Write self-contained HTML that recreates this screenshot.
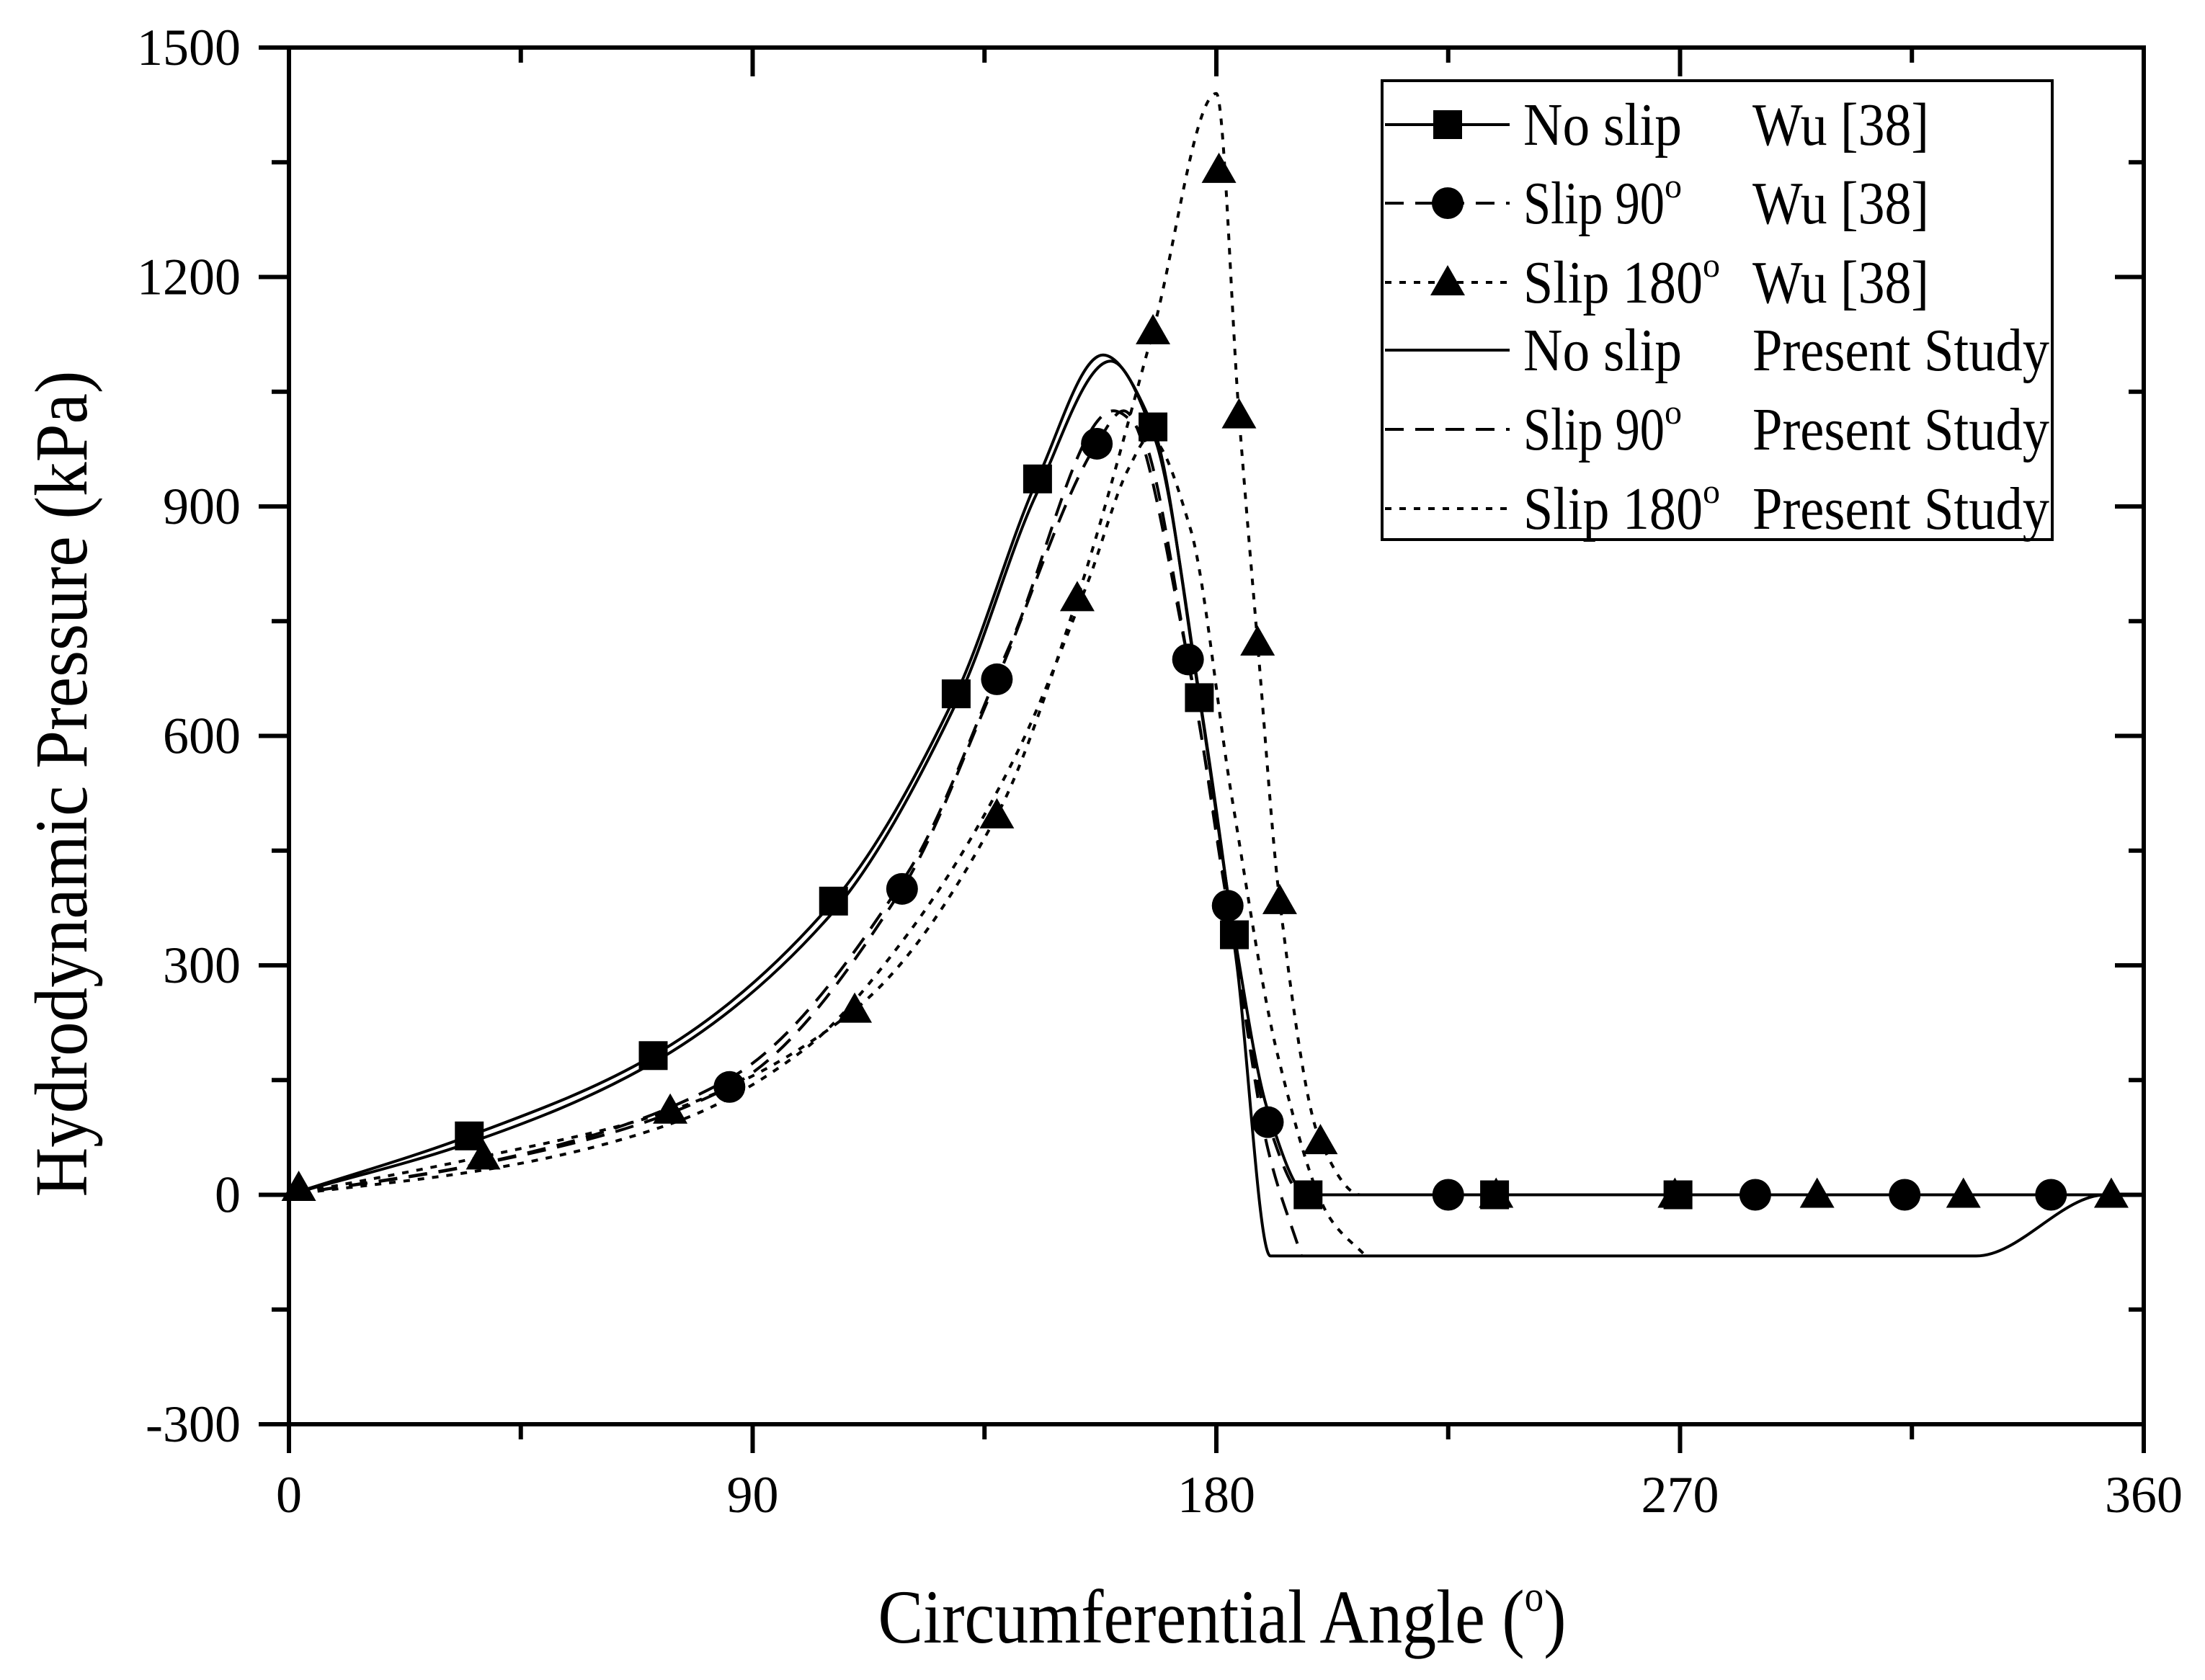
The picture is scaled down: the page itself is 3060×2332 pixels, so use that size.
<!DOCTYPE html>
<html><head><meta charset="utf-8"><style>
html,body{margin:0;padding:0;background:#fff;}
svg{display:block;}
text{font-family:"Liberation Serif","DejaVu Serif",serif;fill:#000;}
</style></head><body>
<svg id="chart" width="3060" height="2332" viewBox="0 0 3060 2332" xmlns="http://www.w3.org/2000/svg">
<rect x="0" y="0" width="3060" height="2332" fill="#fff"/>
<g id="plot"></g>
<g id="axes"></g>
<text x="1696" y="2280" font-size="106" text-anchor="middle" textLength="955" lengthAdjust="spacingAndGlyphs">Circumferential Angle (<tspan font-size="60" dy="-44">o</tspan><tspan dy="44">)</tspan></text>
<text transform="translate(120,1088) rotate(-90)" x="0" y="0" font-size="104" text-anchor="middle" textLength="1147" lengthAdjust="spacingAndGlyphs">Hydrodynamic Pressure (kPa)</text>
<g id="legend"></g>
</svg>
<script>
// ---- data ----
const xTicks = [0, 90, 180, 270, 360];
const yTicks = [-300, 0, 300, 600, 900, 1200, 1500];
// Wu [38] markers
const wuNoSlipAngle = [35, 70.7, 105.7, 129.5, 145.3, 167.7, 176.7, 183.5, 197.8, 234, 269.6];
const wuNoSlipP = [77, 182, 384, 655, 936, 1004, 650, 340, 0, 0, 0];
const wuSlip90Angle = [85.5, 119, 137.4, 156.8, 174.5, 182.2, 190, 225, 284.6, 313.6, 342];
const wuSlip90P = [141, 400, 674, 982, 700, 378, 95, 0, 0, 0, 0];
const wuSlip180Angle = [1.9, 37.7, 74, 109.8, 137.4, 153, 167.7, 180.5, 184.4, 188, 192.3, 200.2, 234.3, 269, 296.6, 325, 353.7];
const wuSlip180P = [9, 50, 110, 242, 496, 780, 1129, 1340, 1019, 722, 384, 70, 0, 0, 0, 0, 0];
// Wu [38] connecting lines
const wuNoSlipLineA = [0, 35, 70.7, 105.7, 129.5, 145.3, 158, 167.7, 176.7, 183.5, 190, 197.8, 360];
const wuNoSlipLineP = [0, 77, 182, 384, 655, 936, 1098, 1004, 650, 340, 110, 0, 0];
const wuSlip90LineA = [0, 37, 85.5, 119, 137.4, 156.8, 162, 174.5, 182.2, 190, 197, 360];
const wuSlip90LineP = [0, 40, 141, 400, 674, 982, 1025, 700, 378, 95, 0, 0];
const wuSlip180LineA = [0, 37.7, 74, 109.8, 137.4, 153, 167.7, 180, 184.4, 188, 192.3, 200.2, 208, 360];
const wuSlip180LineP = [0, 50, 110, 242, 496, 780, 1129, 1440, 1019, 722, 384, 70, 0, 0];
// Present study
const psNoSlipA = [0, 35, 70, 105, 130, 145, 159.5, 168, 177, 184, 190.5, 327.5, 352.6, 360];
const psNoSlipP = [0, 68, 170, 365, 650, 915, 1090, 990, 640, 300, -80, -80, 0, 0];
const psSlip90A = [0, 40, 85, 120, 140, 160, 165, 175, 183, 190, 196.5];
const psSlip90P = [0, 45, 150, 420, 720, 1025, 1000, 680, 350, 60, -80];
const psSlip180A = [0, 40, 75, 100, 120, 140, 155, 163, 167, 175, 183, 192, 202, 209];
const psSlip180P = [0, 35, 95, 190, 340, 560, 800, 950, 990, 870, 520, 180, -30, -80];

// ---- scales ----
const L = 401, R = 2975, T = 66, B = 1977;
function X(a){ return L + a / 360 * (R - L); }
function Y(v){ return B - (v + 300) / 1800 * (B - T); }
const NS = 'http://www.w3.org/2000/svg';
function mk(tag, parent){ const e = document.createElementNS(NS, tag); parent.appendChild(e); return e; }
// monotone cubic (Fritsch-Carlson) path through the points
function smoothPath(xs, ys){
  const px = xs.map(X), py = ys.map(Y), n = px.length;
  const d = [], m = new Array(n);
  for (let i = 0; i < n - 1; i++) d.push((py[i + 1] - py[i]) / (px[i + 1] - px[i]));
  m[0] = d[0]; m[n - 1] = d[n - 2];
  for (let i = 1; i < n - 1; i++){
    if (d[i - 1] * d[i] <= 0) m[i] = 0;
    else { const w1 = 2 * (px[i + 1] - px[i]) + (px[i] - px[i - 1]), w2 = (px[i + 1] - px[i]) + 2 * (px[i] - px[i - 1]);
      m[i] = (w1 + w2) / (w1 / d[i - 1] + w2 / d[i]); }
  }
  let s = 'M' + px[0] + ',' + py[0];
  for (let i = 0; i < n - 1; i++){
    const h = (px[i + 1] - px[i]) / 3;
    s += ' C' + (px[i] + h) + ',' + (py[i] + m[i] * h) + ' ' + (px[i + 1] - h) + ',' + (py[i + 1] - m[i + 1] * h) + ' ' + px[i + 1] + ',' + py[i + 1];
  }
  return s;
}
const plot = document.getElementById('plot');
function line(xs, ys, dash, name){
  const e = mk('path', plot);
  
  
  e.setAttribute('d', smoothPath(xs, ys));
  e.setAttribute('fill', 'none');
  e.setAttribute('stroke', '#000');
  e.setAttribute('stroke-width', '4');
  e.setAttribute('stroke-linejoin', 'round');
  if (dash) e.setAttribute('stroke-dasharray', dash);
}
line(psNoSlipA, psNoSlipP, null, 'present-no-slip-line');
line(psSlip90A, psSlip90P, '26,16', 'present-slip90-line');
line(psSlip180A, psSlip180P, '9,11', 'present-slip180-line');
line(wuNoSlipLineA, wuNoSlipLineP, null, 'wu-no-slip-line');
line(wuSlip90LineA, wuSlip90LineP, '26,16', 'wu-slip90-line');
line(wuSlip180LineA, wuSlip180LineP, '9,11', 'wu-slip180-line');

function marker(parent, kind, cx, cy){
  let e;
  if (kind === 'sq'){ e = mk('rect', parent); e.setAttribute('x', cx - 20); e.setAttribute('y', cy - 20); e.setAttribute('width', 40); e.setAttribute('height', 40); }
  else if (kind === 'ci'){ e = mk('circle', parent); e.setAttribute('cx', cx); e.setAttribute('cy', cy); e.setAttribute('r', 22); }
  else { e = mk('polygon', parent); e.setAttribute('points', (cx) + ',' + (cy - 24) + ' ' + (cx - 24) + ',' + (cy + 18) + ' ' + (cx + 24) + ',' + (cy + 18)); }
  e.setAttribute('fill', '#000');
  return e;
}
wuNoSlipAngle.forEach((a, i) => {
  const m = marker(plot, 'sq', X(a), Y(wuNoSlipP[i]));
  
  
});
wuSlip90Angle.forEach((a, i) => {
  const m = marker(plot, 'ci', X(a), Y(wuSlip90P[i]));
  
  
});
wuSlip180Angle.forEach((a, i) => {
  const m = marker(plot, 'tr', X(a), Y(wuSlip180P[i]));
  
  
});

// ---- axes ----
const axes = document.getElementById('axes');
const frame = mk('rect', axes);


frame.setAttribute('x', L); frame.setAttribute('y', T); frame.setAttribute('width', R - L); frame.setAttribute('height', B - T);
frame.setAttribute('fill', 'none'); frame.setAttribute('stroke', '#000'); frame.setAttribute('stroke-width', '6');
function tick(x1, y1, x2, y2){
  const e = mk('line', axes);
  
  
  e.setAttribute('x1', x1); e.setAttribute('y1', y1); e.setAttribute('x2', x2); e.setAttribute('y2', y2);
  e.setAttribute('stroke', '#000'); e.setAttribute('stroke-width', '6');
}
for (let a = 0; a <= 360; a += 45){
  const major = (a % 90 === 0);
  tick(X(a), B, X(a), B + (major ? 40 : 21));
  tick(X(a), T, X(a), T + (major ? 40 : 21));
}
for (let v = -300; v <= 1500; v += 150){
  const major = (v % 300 === 0);
  tick(L, Y(v), L - (major ? 42 : 24), Y(v));
  tick(R, Y(v), R - (major ? 40 : 21), Y(v));
}
xTicks.forEach(a => {
  const t = mk('text', axes);
  
  
  t.setAttribute('x', X(a)); t.setAttribute('y', 2099);
  t.setAttribute('font-size', '72'); t.setAttribute('text-anchor', 'middle');
  t.textContent = a;
});
yTicks.forEach(v => {
  const t = mk('text', axes);
  
  
  t.setAttribute('x', 334); t.setAttribute('y', Y(v) + 24);
  t.setAttribute('font-size', '72'); t.setAttribute('text-anchor', 'end');
  t.textContent = v;
});

// ---- legend ----
const lg = document.getElementById('legend');
const box = mk('rect', lg);


box.setAttribute('x', 1918); box.setAttribute('y', 112); box.setAttribute('width', 930); box.setAttribute('height', 637);
box.setAttribute('fill', '#fff'); box.setAttribute('stroke', '#000'); box.setAttribute('stroke-width', '4');
const legNames = ['No slip', 'Slip 90', 'Slip 180', 'No slip', 'Slip 90', 'Slip 180'];
const legSup = [false, true, true, false, true, true];
const legSrc = ['Wu [38]', 'Wu [38]', 'Wu [38]', 'Present Study', 'Present Study', 'Present Study'];
const legDash = [null, '26,16', '9,11', null, '26,16', '9,11'];
const legMark = ['sq', 'ci', 'tr', null, null, null];
const legRowY = [173, 282, 392, 486, 596, 706];
legNames.forEach((n, i) => {
  const y = legRowY[i];
  const ln = mk('line', lg);
  
  
  ln.setAttribute('x1', 1922); ln.setAttribute('x2', 2095); ln.setAttribute('y1', y); ln.setAttribute('y2', y);
  ln.setAttribute('stroke', '#000'); ln.setAttribute('stroke-width', '4');
  if (legDash[i]) ln.setAttribute('stroke-dasharray', legDash[i]);
  if (legMark[i]) {
    const m = marker(lg, legMark[i], 2009, y);
    
    
  }
  const t = mk('text', lg);
  
  
  t.setAttribute('x', 2114); t.setAttribute('y', y + 28); t.setAttribute('font-size', '84');
  const base = mk('tspan', t);
  base.setAttribute('textLength', n === 'No slip' ? 220 : (n === 'Slip 90' ? 196 : 249));
  base.setAttribute('lengthAdjust', 'spacingAndGlyphs');
  base.textContent = n;
  if (legSup[i]) {
    const s = mk('tspan', t); s.setAttribute('font-size', '48'); s.setAttribute('dy', '-36'); s.textContent = 'o';
  }
  const t2 = mk('text', lg);
  
  
  t2.setAttribute('x', 2432); t2.setAttribute('y', y + 28); t2.setAttribute('font-size', '84');
  t2.setAttribute('textLength', legSrc[i] === 'Wu [38]' ? 245 : 412);
  t2.setAttribute('lengthAdjust', 'spacingAndGlyphs');
  t2.textContent = legSrc[i];
});
</script>
</body></html>
